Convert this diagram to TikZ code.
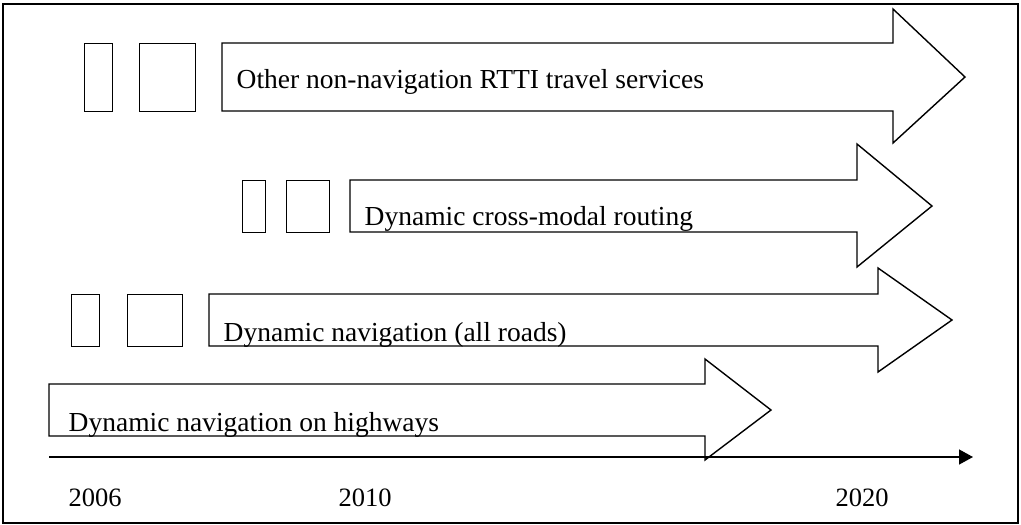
\documentclass[tikz,border=0pt]{standalone}
\usepackage{fontspec}
\setmainfont{Liberation Serif}
\usetikzlibrary{arrows.meta}
\begin{document}
\begin{tikzpicture}[x=1pt,y=-1pt,line join=miter,line width=1.4pt,
  slot/.style={draw,inner sep=0pt,anchor=north west},
  lbl/.style={anchor=base west,inner sep=0pt,font=\fontsize{27.5}{32}\selectfont},
  yr/.style={anchor=base west,inner sep=0pt,font=\fontsize{26.5}{30}\selectfont},
  axisline/.style={-{Triangle[length=14pt,width=15pt]}}]
\useasboundingbox (0,0) rectangle (1021,525);
\draw (3,4) rectangle (1018,523);
% row 1
\node[slot,minimum width=28pt,minimum height=68pt] (a1) at (84,43) {};
\node[slot,minimum width=56pt,minimum height=68pt] (b1) at (139,43) {};
\begin{scope}
\draw[clip] (222,43) -- (893,43) -- (893,9) -- (965,77) -- (893,143) -- (893,111) -- (222,111) -- cycle;
\node[lbl] (t1) at (236,88) {Other non-navigation RTTI travel services};
\end{scope}
% row 2
\node[slot,minimum width=23pt,minimum height=52pt] (a2) at (242,180) {};
\node[slot,minimum width=43pt,minimum height=52pt] (b2) at (286,180) {};
\begin{scope}
\draw[clip] (350,180) -- (857,180) -- (857,144) -- (932,206) -- (857,267) -- (857,232) -- (350,232) -- cycle;
\node[lbl] (t2) at (364,225.5) {Dynamic cross-modal routing};
\end{scope}
% row 3
\node[slot,minimum width=28pt,minimum height=52pt] (a3) at (71,294) {};
\node[slot,minimum width=55pt,minimum height=52pt] (b3) at (127,294) {};
\begin{scope}
\draw[clip] (209,294) -- (878,294) -- (878,268) -- (952,320) -- (878,372) -- (878,346) -- (209,346) -- cycle;
\node[lbl] (t3) at (223,341.5) {Dynamic navigation (all roads)};
\end{scope}
% row 4
\begin{scope}
\draw[clip] (49,384) -- (705,384) -- (705,359) -- (771,410) -- (705,460) -- (705,436) -- (49,436) -- cycle;
\node[lbl] (t4) at (68,431) {Dynamic navigation on highways};
\end{scope}
% axis
\coordinate (s) at (49,457);
\coordinate (e) at (973,457);
\draw[axisline] (s) -- (e);
\node[yr] (y1) at (68,506) {2006};
\node[yr] (y2) at (338,506) {2010};
\node[yr] (y3) at (835,506) {2020};
\end{tikzpicture}
\end{document}
